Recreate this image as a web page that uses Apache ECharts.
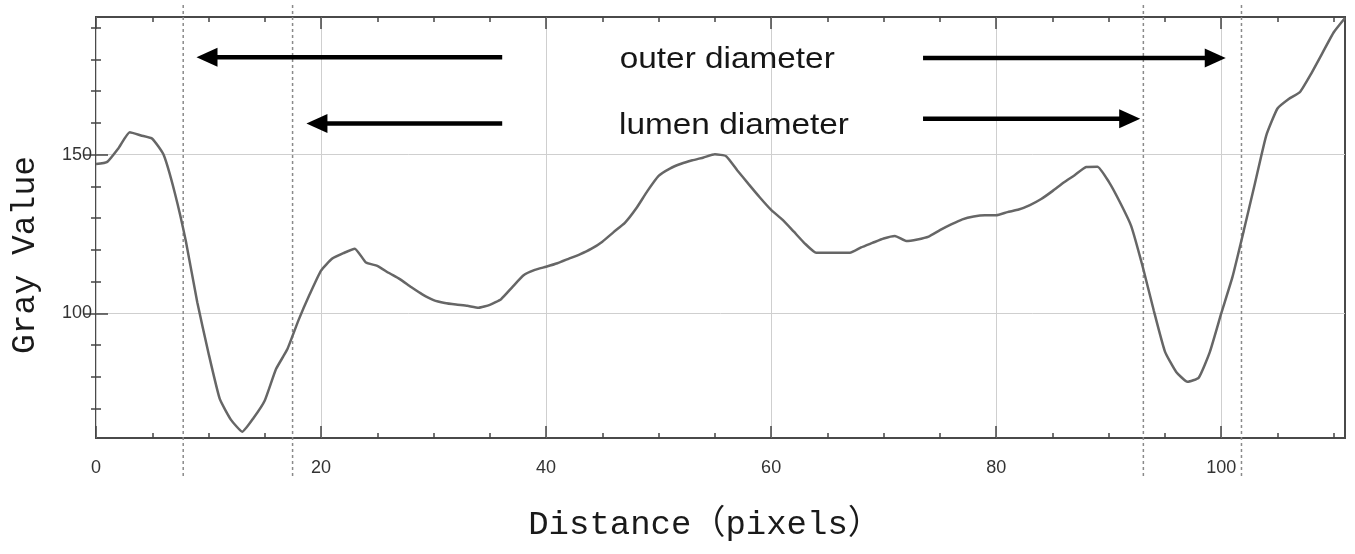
<!DOCTYPE html>
<html>
<head>
<meta charset="utf-8">
<script src="https://cdn.jsdelivr.net/npm/echarts@6/dist/echarts.min.js"></script>
<style>
html,body{margin:0;padding:0;background:#fff;}
#chart{width:1355px;height:554px;}
</style>
</head>
<body>
<div id="chart"></div>
<script>
// ---- data ----
const distance = [];
for (let i = 0; i <= 111; i++) distance.push(i);
const gray = [
  147, 147.7, 152, 157, 156, 155, 150, 138, 122.5, 103.5,
  87.5, 73.1, 66.5, 62.8, 67.1, 72.6, 82.5, 88.7, 97.9, 106.1,
  113.5, 117.3, 119, 120.4, 116, 115, 112.8, 110.8, 108.3, 106,
  104.2, 103.3, 102.8, 102.4, 101.8, 102.7, 104.5, 108.3, 112, 113.7,
  114.7, 115.8, 117.2, 118.6, 120.3, 122.6, 125.6, 128.5, 133, 138.5,
  143.3, 145.6, 147.1, 148.2, 149.1, 150.1, 149.5, 145, 140.7, 136.5,
  132.6, 129.5, 125.8, 122, 119.1, 119.1, 119.1, 119.1, 120.8, 122.2,
  123.6, 124.4, 122.8, 123.3, 124.2, 126.2, 128, 129.6, 130.5, 130.9,
  130.9, 131.9, 132.7, 134.1, 136, 138.5, 141.2, 143.6, 146.1, 146.2,
  141.5, 135, 127.5, 115, 101, 88, 81.6, 78.5, 79.8, 88,
  100, 111.5, 126, 141, 156, 164.5, 167.5, 169.7, 175.5, 182,
  188.5, 193
];
const xMajorTicks = [0, 20, 40, 60, 80, 100];
const xMinorTicks = [5, 10, 15, 25, 30, 35, 45, 50, 55, 65, 70, 75, 85, 90, 95, 105, 110];
const yMajorTicks = [100, 150];
const yMinorTicks = [70, 80, 90, 110, 120, 130, 140, 160, 170, 180, 190];
const xRange = [0, 111];
const yRange = [60.8, 193.3];
// vertical dashed boundary markers (distance)
const boundaryX = [7.75, 17.47, 93.08, 101.8];
// arrows: [from distance, to distance (tip), gray value]
const arrowFrom = [36.1, 36.1, 73.5, 73.5];
const arrowTo = [8.93, 18.7, 100.4, 92.8];
const arrowY = [180.6, 159.8, 180.4, 161.3];
// annotation texts
const noteText = ['outer diameter', 'lumen diameter'];
const noteX = [56.1, 56.7];
const noteY = [179.7, 158.9];
const xTitle = 'Distance（pixels）';
const yTitle = 'Gray Value';

// ---- chart ----
const chart = echarts.init(document.getElementById('chart'), null, {renderer: 'canvas'});
const tickColor = '#444';
const labelStyle = {color: '#333', fontSize: 18, fontFamily: '"Liberation Sans", Arial, sans-serif'};

function xAxisDef(pos, ticks, len, label, split) {
  return {
    type: 'value', min: xRange[0], max: xRange[1], position: pos,
    axisLine: {show: false},
    axisTick: {show: true, inside: true, length: len, customValues: ticks, lineStyle: {color: tickColor, width: 1.5}},
    axisLabel: label ? Object.assign({show: true, customValues: ticks, margin: 21}, labelStyle) : {show: false},
    splitLine: {show: split, lineStyle: {color: '#cfcfcf', width: 1}},
    minorTick: {show: false}
  };
}
function yAxisDef(pos, ticks, len, label, split) {
  return {
    type: 'value', min: yRange[0], max: yRange[1], position: pos,
    axisLine: {show: false},
    axisTick: {show: true, inside: true, length: len, customValues: ticks, lineStyle: {color: tickColor, width: 1.5}},
    axisLabel: label ? Object.assign({show: true, customValues: ticks, margin: 4}, labelStyle) : {show: false},
    splitLine: {show: split, lineStyle: {color: '#cfcfcf', width: 1}}
  };
}

const lineData = distance.map((d, i) => [d, gray[i]]);
const arrowData = arrowFrom.map((f, i) => [f, arrowTo[i], arrowY[i]]);
const noteData = noteX.map((x, i) => [x, noteY[i]]);

const option = {
  animation: false,
  backgroundColor: '#fff',
  grid: {left: 96, top: 17, right: 10, bottom: 116, show: true, borderColor: '#4a4a4a', borderWidth: 2, backgroundColor: 'transparent'},
  xAxis: [
    xAxisDef('bottom', xMajorTicks, 12, true, true),
    xAxisDef('bottom', xMinorTicks, 5, false, false),
    xAxisDef('top', xMajorTicks, 12, false, false),
    xAxisDef('top', xMinorTicks, 5, false, false)
  ],
  yAxis: [
    yAxisDef('left', yMajorTicks, 12, true, true),
    yAxisDef('left', yMinorTicks, 5, false, false),
    yAxisDef('right', yMajorTicks, 12, false, false),
    yAxisDef('right', yMinorTicks, 5, false, false)
  ],
  series: [
    {
      type: 'custom', name: 'boundaries', xAxisIndex: 0, yAxisIndex: 0, clip: false, silent: true,
      data: boundaryX.map(v => [v, yRange[0]]),
      renderItem: function (params, api) {
        const x = api.value(0);
        const top = api.coord([x, yRange[1]]);
        const bot = api.coord([x, yRange[0]]);
        return {type: 'line', shape: {x1: top[0], y1: top[1] - 12, x2: bot[0], y2: bot[1] + 39},
          style: {stroke: '#8a8a8a', lineWidth: 1.5, lineDash: [3, 3]}};
      },
      z: 1
    },
    {
      type: 'line', name: 'profile', xAxisIndex: 0, yAxisIndex: 0,
      data: lineData, showSymbol: false, smooth: 0.15,
      lineStyle: {color: '#666', width: 2.5}, z: 3
    },
    {
      type: 'custom', name: 'arrows', xAxisIndex: 0, yAxisIndex: 0, clip: false, silent: true,
      data: arrowData, encode: {x: [0, 1], y: 2},
      renderItem: function (params, api) {
        const p0 = api.coord([api.value(0), api.value(2)]);
        const p1 = api.coord([api.value(1), api.value(2)]);
        const dir = p1[0] > p0[0] ? 1 : -1;
        const L = 21, W = 19;
        return {type: 'group', children: [
          {type: 'line', shape: {x1: p0[0], y1: p0[1], x2: p1[0] - dir * (L - 2), y2: p1[1]}, style: {stroke: '#000', lineWidth: 4.5}},
          {type: 'polygon', shape: {points: [[p1[0], p1[1]], [p1[0] - dir * L, p1[1] - W / 2], [p1[0] - dir * L, p1[1] + W / 2]]}, style: {fill: '#000'}}
        ]};
      },
      z: 4
    },
    {
      type: 'custom', name: 'notes', xAxisIndex: 0, yAxisIndex: 0, clip: false, silent: true,
      data: noteData,
      renderItem: function (params, api) {
        const p = api.coord([api.value(0), api.value(1)]);
        return {type: 'text', x: p[0], y: p[1], scaleX: 1.15,
          style: {text: noteText[params.dataIndex], font: '29px "Liberation Sans", Arial, sans-serif', fill: '#161616',
            textAlign: 'center', textVerticalAlign: 'middle'}};
      },
      z: 5
    }
  ],
  graphic: [
    {type: 'text', x: 705, y: 525, style: {text: xTitle, font: '34px "Liberation Mono", "Noto Sans CJK SC", monospace', fill: '#1a1a1a', textAlign: 'center', textVerticalAlign: 'middle'}},
    {type: 'text', x: 25, y: 255, rotation: Math.PI / 2, style: {text: yTitle, font: '33px "Liberation Mono", monospace', fill: '#1a1a1a', textAlign: 'center', textVerticalAlign: 'middle'}}
  ]
};
chart.setOption(option);
</script>
</body>
</html>
